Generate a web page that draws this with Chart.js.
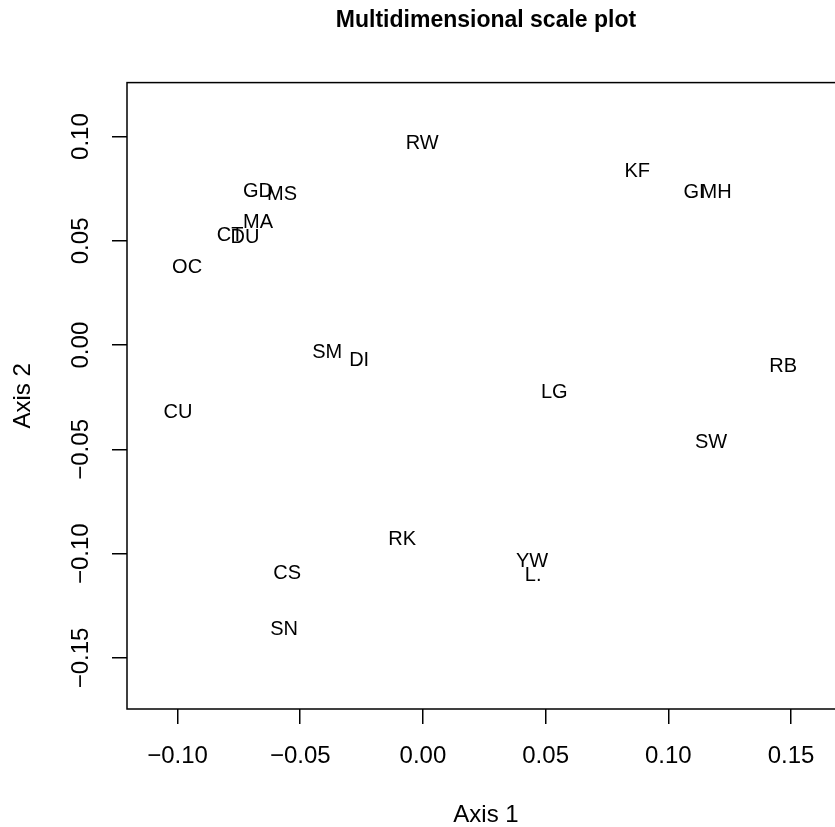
<!DOCTYPE html>
<html>
<head>
<meta charset="utf-8">
<title>Multidimensional scale plot</title>
<script src="https://cdn.jsdelivr.net/npm/chart.js@4.4.1/dist/chart.umd.min.js"></script>
<style>
  html, body { margin: 0; padding: 0; background: #fff; overflow: hidden; }
  #wrap { width: 835px; height: 827px; overflow: hidden; }
</style>
</head>
<body>
<div id="wrap"><canvas id="mdsChart" width="850" height="827"></canvas></div>
<script>
// site codes and their coordinates on the two axes
const siteNames = ['RW', 'KF', 'GI', 'MH', 'GD', 'MS', 'MA', 'CT', 'DU', 'OC', 'CU',
                   'SM', 'DI', 'LG', 'RB', 'SW', 'RK', 'YW', 'L.', 'CS', 'SN'];
const axis1 = [-0.0003, 0.0873, 0.1105, 0.1195, -0.0672, -0.0574, -0.0672, -0.0786, -0.0725, -0.0961, -0.0998,
               -0.0390, -0.0260, 0.0535, 0.1468, 0.1174, -0.0085, 0.0445, 0.0449, -0.0553, -0.0566];
const axis2 = [0.0966, 0.0832, 0.0731, 0.0731, 0.0736, 0.0722, 0.0587, 0.0525, 0.0515, 0.0371, -0.0324,
               -0.0036, -0.0075, -0.0228, -0.0104, -0.0468, -0.0934, -0.1039, -0.1106, -0.1096, -0.1364];

const xTicks = [-0.10, -0.05, 0.00, 0.05, 0.10, 0.15];
const yTicks = [-0.15, -0.10, -0.05, 0.00, 0.05, 0.10];

const FONT = '"Liberation Sans", Arial, Helvetica, sans-serif';

// R style number labels with a real minus sign
function fmt(v) {
  return v.toFixed(2).replace('-', '\u2212');
}

// box around the plot region, like R's box()
const frame = {
  id: 'frame',
  afterDraw(chart) {
    const { ctx, chartArea: a } = chart;
    ctx.save();
    ctx.strokeStyle = '#000';
    ctx.lineWidth = 1.5;
    ctx.strokeRect(a.left, a.top, a.right - a.left, a.bottom - a.top);
    ctx.restore();
  }
};

// write each site code at its point
const pointLabels = {
  id: 'pointLabels',
  afterDatasetsDraw(chart) {
    const ctx = chart.ctx;
    const meta = chart.getDatasetMeta(0);
    ctx.save();
    ctx.fillStyle = '#000';
    ctx.font = '20px ' + FONT;
    ctx.textAlign = 'center';
    ctx.textBaseline = 'middle';
    meta.data.forEach((pt, i) => {
      ctx.fillText(siteNames[i], pt.x, pt.y);
    });
    ctx.restore();
  }
};

const ctx = document.getElementById('mdsChart').getContext('2d');
const mdsChart = new Chart(ctx, {
  type: 'scatter',
  data: {
    datasets: [{
      label: 'sites',
      data: siteNames.map((n, i) => ({ x: axis1[i], y: axis2[i] })),
      pointRadius: 0,
      pointHoverRadius: 0
    }]
  },
  options: {
    responsive: false,
    animation: false,
    layout: { padding: { left: 0, right: 5, top: 0, bottom: 0 } },
    plugins: {
      legend: { display: false },
      tooltip: { enabled: false },
      title: {
        display: true,
        text: 'Multidimensional scale plot',
        fullSize: false,
        color: '#000',
        font: { family: FONT, size: 23, weight: 'bold', lineHeight: 1.2 },
        padding: { top: 7, bottom: 48 }
      }
    },
    scales: {
      x: {
        type: 'linear',
        min: -0.1206,
        max: 0.172,
        afterBuildTicks: s => { s.ticks = xTicks.map(v => ({ value: v })); },
        afterFit: s => { s.height = 118; },
        grid: { drawOnChartArea: false, drawTicks: true, tickLength: 15, color: '#000', lineWidth: 1.5 },
        border: { display: false },
        ticks: {
          color: '#000',
          font: { family: FONT, size: 24 },
          padding: 18,
          maxRotation: 0,
          autoSkip: false,
          callback: v => fmt(v)
        },
        title: {
          display: true,
          text: 'Axis 1',
          color: '#000',
          font: { family: FONT, size: 24, lineHeight: 1 },
          padding: { top: 0, bottom: 0 }
        }
      },
      y: {
        type: 'linear',
        min: -0.1745,
        max: 0.1259,
        afterBuildTicks: s => { s.ticks = yTicks.map(v => ({ value: v })); },
        afterFit: s => { s.width = 127; },
        grid: { drawOnChartArea: false, drawTicks: true, tickLength: 15, color: '#000', lineWidth: 1.5 },
        border: { display: false },
        ticks: {
          color: '#000',
          font: { family: FONT, size: 24 },
          padding: 0,
          minRotation: 90,
          maxRotation: 90,
          crossAlign: 'center',
          autoSkip: false,
          callback: v => fmt(v)
        },
        title: {
          display: true,
          text: 'Axis 2',
          color: '#000',
          font: { family: FONT, size: 24, lineHeight: 1 },
          padding: { top: 11, bottom: 0 }
        }
      }
    }
  },
  plugins: [frame, pointLabels]
});
</script>
</body>
</html>
